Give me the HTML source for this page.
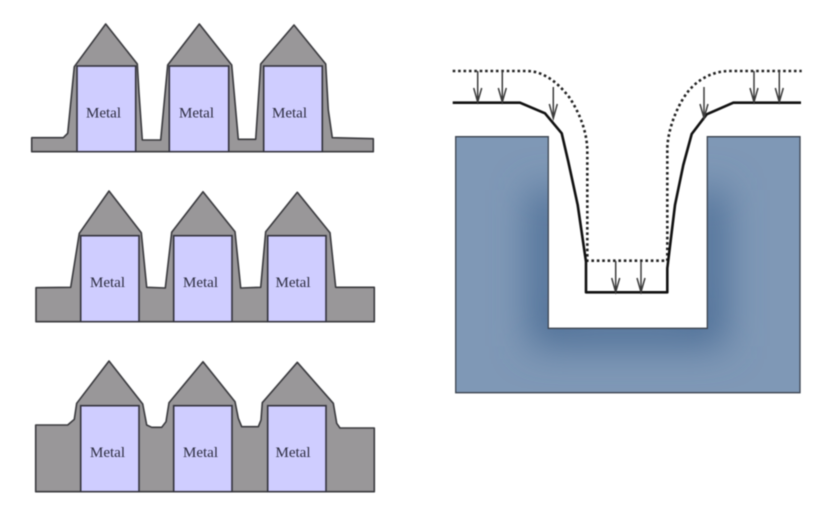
<!DOCTYPE html>
<html>
<head>
<meta charset="utf-8">
<style>
html,body{margin:0;padding:0;background:#fff;width:820px;height:507px;overflow:hidden}
svg{display:block;filter:blur(.4px)}
text{font-family:"Liberation Serif",serif;font-size:15px;fill:#2c2c40;text-anchor:middle}
.g{fill:#999799;stroke:#3a3a3e;stroke-width:1.6;stroke-linejoin:round}
.m{fill:#cfcdff;stroke:#34343e;stroke-width:1.6}
.a{fill:none;stroke:#3c3c3c;stroke-width:1.5}
</style>
</head>
<body>
<svg width="820" height="507" viewBox="0 0 820 507" xmlns="http://www.w3.org/2000/svg">
<defs>
<clipPath id="u"><path d="M455.7 136.7H548.3V328.3H707.3V136.7H800V392.7H455.7Z"/></clipPath>
<filter id="b" x="-50%" y="-50%" width="200%" height="200%"><feGaussianBlur stdDeviation="19"/></filter>
</defs>

<!-- Row 1 -->
<path class="g" d="M31.7 137.7L63.3 137.7L67.7 133.3L71.7 93L74.3 66.7L105.7 24L137.3 64L139 93L142.3 140L160.7 140L167.7 65L199.3 24L231.7 65L238.3 139.3L255.7 139.3L260.7 64L294 25L325.7 64L328.3 110L332.3 137.7L373.3 138.7L373.3 151.7L31.7 151.7Z"/>
<rect class="m" x="77" y="66" width="58.7" height="85.7"/>
<rect class="m" x="169.3" y="66" width="59.4" height="85.7"/>
<rect class="m" x="263.7" y="66" width="58.6" height="85.7"/>
<text x="103.5" y="117.5">Metal</text>
<text x="196.5" y="117.5">Metal</text>
<text x="289.5" y="117.5">Metal</text>

<!-- Row 2 -->
<path class="g" d="M36 287.7L70.7 287.3L79.3 233.3L109 191L141.3 232.7L146.7 287.3L165.3 288L171.7 232.3L203 191.7L235 231.7L240.7 288L260.7 287.3L265.7 231.7L297.3 192.3L330 232.7L335.7 287.3L374.3 287.3L374.3 321.7L36 321.7Z"/>
<rect class="m" x="80.7" y="235.7" width="58.3" height="86"/>
<rect class="m" x="173.7" y="235.7" width="58.3" height="86"/>
<rect class="m" x="267.7" y="235.7" width="58.3" height="86"/>
<text x="107.5" y="287">Metal</text>
<text x="200.5" y="287">Metal</text>
<text x="293" y="287">Metal</text>

<!-- Row 3 -->
<path class="g" d="M35.7 425L67.7 425L74.3 419.3L76.7 403.3L109 361L142.7 404L146.7 425L151.7 427.3L161.7 427.3L166 421.7L169 402.7L203 361.7L235 401.7L238.3 418.3L241.7 426.7L258.3 426.7L261 420L262.3 402.7L297.3 362.3L333.3 403.3L336.7 423.3L340 428L374.3 428L374.3 491.7L35.7 491.7Z"/>
<rect class="m" x="80.7" y="405.7" width="58.3" height="86"/>
<rect class="m" x="173.7" y="405.7" width="58.3" height="86"/>
<rect class="m" x="267.7" y="405.7" width="58.3" height="86"/>
<text x="107.5" y="457">Metal</text>
<text x="200.5" y="457">Metal</text>
<text x="293" y="457">Metal</text>

<!-- Trench block -->
<g clip-path="url(#u)">
<rect x="450" y="130" width="360" height="270" fill="#7f98b6"/>
<path d="M548.3 190V328.3H707.3V190" fill="none" stroke="#4d6e96" stroke-width="36" filter="url(#b)"/>
</g>
<path d="M455.7 136.7H548.3V328.3H707.3V136.7H800V392.7H455.7Z" fill="none" stroke="#3c4450" stroke-width="1.3"/>

<!-- Dotted profile -->
<path d="M452.7 71H526.7C545 71 560 85 570 98.3C578 111 587.3 130 587.3 151.7V260.7H667.3V151C667 132 676 108 686.7 93.3C695 82 710 71 730 71H801.7" fill="none" stroke="#222" stroke-width="2.6" stroke-dasharray="2.6 2.8"/>

<!-- Solid profile -->
<path d="M452.7 102.7H520L545 113.3L561.7 133.3L568.3 161.7L577.7 205L586 261.7V292.3H667.3V268.3L675 205L683.3 165L691.7 134L706.7 114.3L733.3 102.7H801" fill="none" stroke="#111" stroke-width="2.6" stroke-linejoin="round"/>

<!-- Arrows -->
<g class="a">
<path d="M477.7 71V102M473.7 88L477.7 102L481.7 88"/>
<path d="M502.3 71V102M498.3 88L502.3 102L506.3 88"/>
<path d="M553.3 87V118.3M549.3 104L553.3 118.3L557.3 104"/>
<path d="M615.7 261V292M611.7 278L615.7 292L619.7 278"/>
<path d="M641 261V292M637 278L641 292L645 278"/>
<path d="M704 87V118M700 104L704 118L708 104"/>
<path d="M754 71V102M750 88L754 102L758 88"/>
<path d="M779.3 71V102M775.3 88L779.3 102L783.3 88"/>
</g>
</svg>
</body>
</html>
